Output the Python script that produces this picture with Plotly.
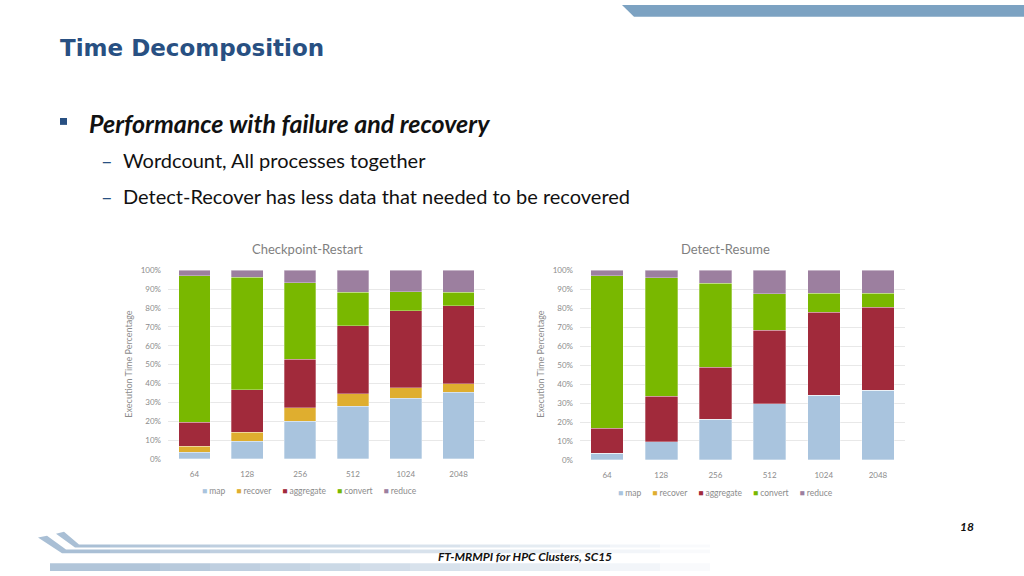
import plotly.graph_objects as go

# ---------------- data ----------------
categories = ["64", "128", "256", "512", "1024", "2048"]
series_names = ["map", "recover", "aggregate", "convert", "reduce"]
series_colors = ["#a9c4de", "#dfae2f", "#a12a3b", "#79b800", "#9c7f9f"]

# Checkpoint-Restart (fractions of total execution time)
cr_map = [0.037, 0.094, 0.201, 0.279, 0.321, 0.353]
cr_recover = [0.031, 0.047, 0.071, 0.068, 0.056, 0.047]
cr_aggregate = [0.126, 0.227, 0.257, 0.358, 0.410, 0.412]
cr_convert = [0.776, 0.595, 0.406, 0.178, 0.100, 0.071]
cr_reduce = [0.030, 0.037, 0.065, 0.117, 0.113, 0.117]

# Detect-Resume
dr_map = [0.036, 0.095, 0.215, 0.296, 0.340, 0.367]
dr_recover = [0.0, 0.0, 0.0, 0.0, 0.0, 0.0]
dr_aggregate = [0.132, 0.241, 0.275, 0.389, 0.438, 0.437]
dr_convert = [0.803, 0.626, 0.442, 0.192, 0.102, 0.075]
dr_reduce = [0.029, 0.038, 0.068, 0.123, 0.120, 0.121]

chart_titles = ["Checkpoint-Restart", "Detect-Resume"]
y_title = "Execution Time Percentage"
y_ticks = [0, 0.1, 0.2, 0.3, 0.4, 0.5, 0.6, 0.7, 0.8, 0.9, 1.0]

W, H = 1024, 576
GRAY = "#8c8c8c"
CHART_FONT = "Lato"

fig = go.Figure()

left_series = [cr_map, cr_recover, cr_aggregate, cr_convert, cr_reduce]
right_series = [dr_map, dr_recover, dr_aggregate, dr_convert, dr_reduce]

for name, color, vals in zip(series_names, series_colors, left_series):
    fig.add_trace(go.Bar(x=categories, y=vals, name=name, marker_color=color,
                         marker_line=dict(color="rgba(255,255,255,0.6)", width=0.5),
                         xaxis="x", yaxis="y", showlegend=False))
for name, color, vals in zip(series_names, series_colors, right_series):
    fig.add_trace(go.Bar(x=categories, y=vals, name=name, marker_color=color,
                         marker_line=dict(color="rgba(255,255,255,0.6)", width=0.5),
                         xaxis="x2", yaxis="y2", showlegend=False))

def px_x(v):
    return v / W

def px_y(v):
    return 1 - v / H

axis_common = dict(showline=False, zeroline=False, ticks="",
                   tickfont=dict(family=CHART_FONT, size=8, color=GRAY))

fig.update_layout(
    width=W, height=H,
    margin=dict(l=0, r=0, t=0, b=0),
    paper_bgcolor="white", plot_bgcolor="white",
    barmode="stack", bargap=0.4,
    xaxis=dict(domain=[px_x(168), px_x(485)], showgrid=False, ticklabelstandoff=9, **axis_common),
    yaxis=dict(domain=[px_y(462), px_y(270)], range=[0, 1], tickvals=y_ticks,
               tickformat=".0%", showgrid=True, gridcolor="#e8e8e8", gridwidth=1,
               ticklabelstandoff=6, **axis_common),
    xaxis2=dict(domain=[px_x(580), px_x(905)], showgrid=False, anchor="y2",
                ticklabelstandoff=9, **axis_common),
    yaxis2=dict(domain=[px_y(463), px_y(270)], range=[0, 1], tickvals=y_ticks,
                tickformat=".0%", showgrid=True, gridcolor="#e8e8e8", gridwidth=1,
                anchor="x2", ticklabelstandoff=6, **axis_common),
)

ann = []

def add_text(text, x, y, size, color, family=CHART_FONT, xanchor="center", **kw):
    ann.append(dict(text=text, x=px_x(x), y=px_y(y), xref="paper", yref="paper",
                    xanchor=xanchor, yanchor="middle", showarrow=False,
                    font=dict(family=family, size=size, color=color), **kw))

# chart titles
add_text(chart_titles[0], 307, 248, 13, "#7f7f7f")
add_text(chart_titles[1], 725, 248, 13, "#7f7f7f")
# y titles
add_text(y_title, 129, 366, 9, GRAY, textangle=-90)
add_text(y_title, 541, 366, 9, GRAY, textangle=-90)

# legends
def legend_text():
    parts = []
    for n, c in zip(series_names, series_colors):
        parts.append(f'<span style="color:{c}">■</span>&nbsp;{n}')
    return "&nbsp;&nbsp;&nbsp;&nbsp;&nbsp;".join(parts)

add_text(legend_text(), 309, 495, 8.5, GRAY)
add_text(legend_text(), 725, 497, 8.5, GRAY)

# slide text
add_text("<b>Time Decomposition</b>", 58, 44, 23, "#285082", family="DejaVu Sans", xanchor="left")
add_text("<b><i>Performance with failure and recovery</i></b>", 87, 120, 25, "#111111",
         family="Lato", xanchor="left")
add_text("–", 99, 158, 20, "#285082", family="Lato", xanchor="left")
add_text("Wordcount, All processes together", 121, 158, 20, "#111111", family="Lato", xanchor="left")
add_text("–", 99, 194, 20, "#285082", family="Lato", xanchor="left")
add_text("Detect-Recover has less data that needed to be recovered", 121, 194, 20, "#111111",
         family="Lato", xanchor="left")
# footer
add_text("<b><i>FT-MRMPI for HPC Clusters, SC15</i></b>", 525, 561, 12, "#111111", family="Lato")
add_text("<b><i>18</i></b>", 967, 531, 12, "#111111", family="Lato")

fig.update_layout(annotations=ann)

shapes = []
def P(x, y):
    return f"{px_x(x):.5f},{px_y(y):.5f}"

# bullet square
shapes.append(dict(type="rect", xref="paper", yref="paper",
                   x0=px_x(60), x1=px_x(67), y0=px_y(122), y1=px_y(115),
                   fillcolor="#285082", line=dict(width=0)))
# top-right band
shapes.append(dict(type="path", xref="paper", yref="paper",
                   path=f"M {P(622,0)} L {P(1024,0)} L {P(1024,12)} L {P(634,12)} Z",
                   fillcolor="#7ca2c2", line=dict(width=0)))

# bottom-left decoration (hooks + fading bands)
deco = "#a9bfd5"
shapes.append(dict(type="path", xref="paper", yref="paper",
                   path=f"M {P(38,542)} L {P(47,540)} L {P(66,554)} L {P(110,554)} L {P(110,558)} L {P(62,558)} Z",
                   fillcolor=deco, line=dict(width=0)))
shapes.append(dict(type="path", xref="paper", yref="paper",
                   path=f"M {P(56,538)} L {P(64,536)} L {P(79,549)} L {P(110,549)} L {P(110,552)} L {P(75,552)} Z",
                   fillcolor=deco, line=dict(width=0)))
steps = 12
for i in range(steps):
    xa = 110 + i * 50
    xb = xa + 50
    op = max(0.0, 1 - i / steps)
    for (ya, yb) in [(549, 552), (554, 558), (568, 576)]:
        x_start = 50 if (ya == 568 and i == 0) else xa
        shapes.append(dict(type="rect", xref="paper", yref="paper",
                           x0=px_x(x_start), x1=px_x(xb), y0=px_y(yb), y1=px_y(ya),
                           fillcolor=deco, opacity=op * 0.9, line=dict(width=0), layer="below"))

fig.update_layout(shapes=shapes)

fig.write_html("out.html", config={"displayModeBar": False},
               post_script="document.body.style.margin='0';document.body.style.overflow='hidden';")
